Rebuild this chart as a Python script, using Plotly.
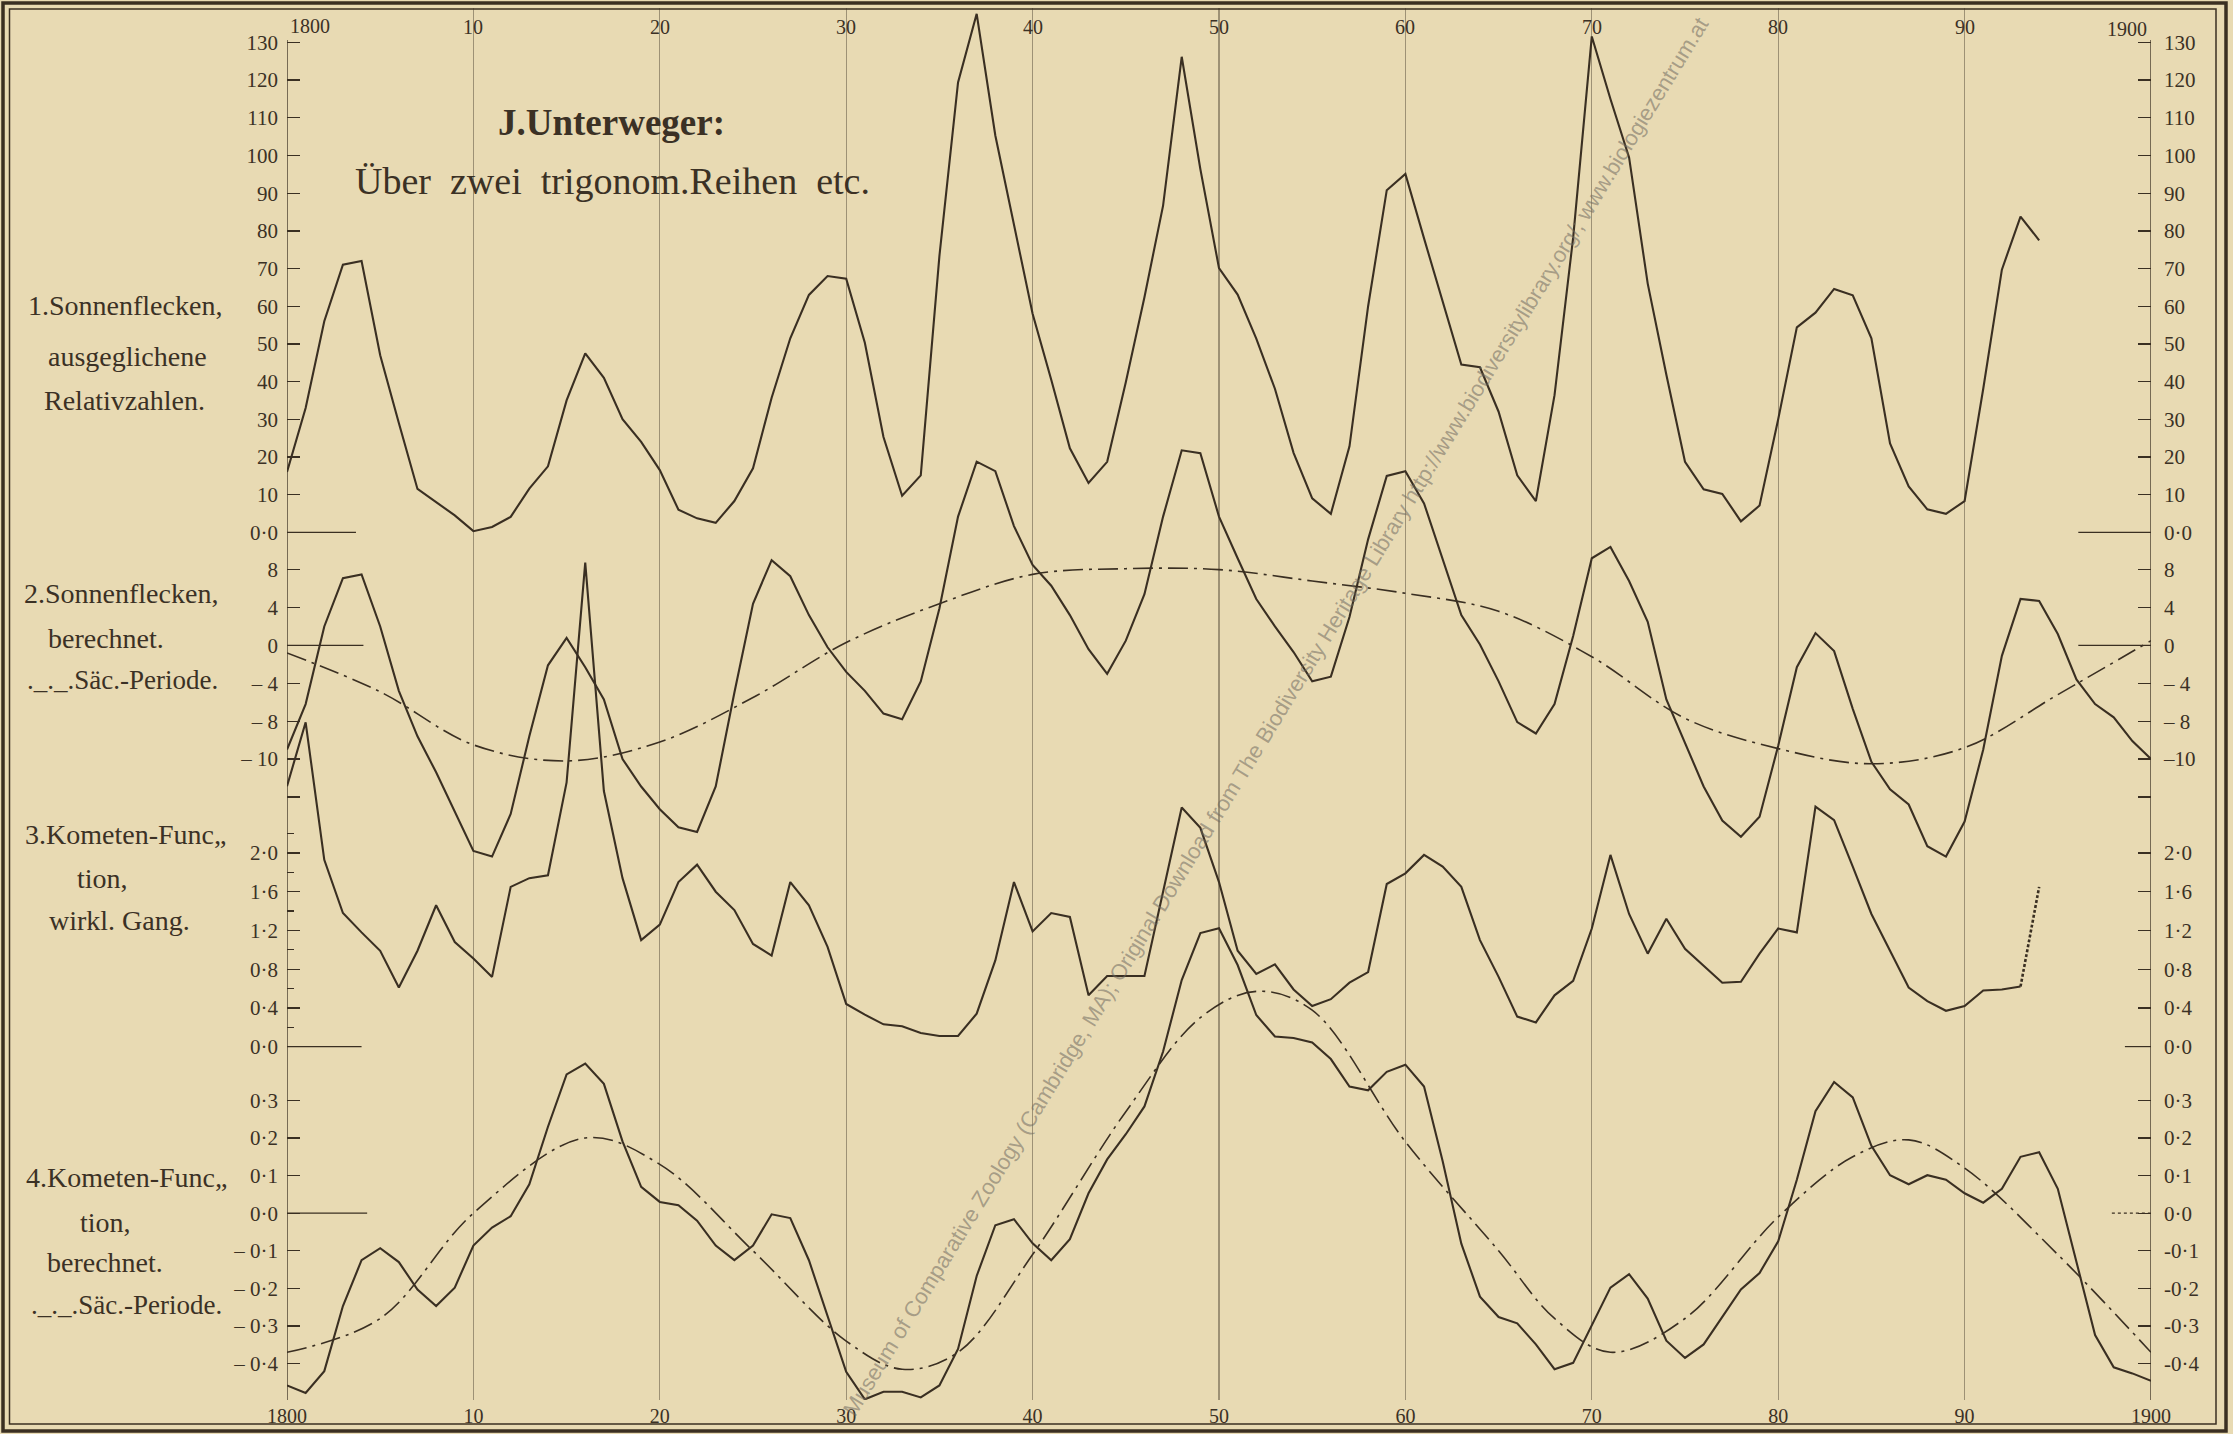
import plotly.graph_objects as go

# ---------------- data ----------------
years_p1 = list(range(1800, 1895))
sunspots_smoothed = [
    16, 33, 56, 71, 72, 47, 29, 11.5, 8, 4.5, 0.3, 1.4, 4.1, 11.6, 17.5, 35, 47.5, 41, 30, 24, 16.5,
    6, 3.7, 2.5, 8.3, 17, 35.7, 51.5, 63, 68, 67.3, 50.3, 25.3, 9.7, 15.1, 73.3, 119.4, 137.6, 105.3, 81.8,
    58, 40.5, 22.3, 13.1, 18.7, 39.8, 62.4, 86.7, 126.2, 96.4, 70.1, 63.1, 51.4, 38.1, 21.1, 9, 4.9, 22.8, 60, 90.8,
    95.1, 78, 61.5, 44.5, 43.8, 32, 15.1, 8.3, 36.4, 78.2, 131.6, 115, 99.5, 66, 41.8, 18.7, 11.4, 10.2, 2.9, 7.1,
    30, 54.4, 58.3, 64.6, 62.9, 51.5, 23.6, 12.2, 6.1, 4.9, 8.3, 38.1, 69.7, 83.8, 77.5]

years_full = list(range(1800, 1901))
sunspots_calc = [
    -11.0, -6.2, 2.0, 7.1, 7.5, 2.0, -4.8, -9.6, -13.4, -17.6,
    -21.7, -22.3, -17.8, -9.6, -2.1, 0.8, -2.3, -5.7, -12.0, -14.9,
    -17.3, -19.2, -19.7, -14.9, -5.0, 4.4, 9.0, 7.3, 3.2, -0.2,
    -2.8, -4.8, -7.2, -7.8, -3.8, 3.9, 13.6, 19.4, 18.4, 12.6,
    8.5, 6.3, 3.2, -0.4, -3.0, 0.5, 5.4, 13.6, 20.6, 20.3,
    13.6, 9.2, 4.9, 2.0, -0.7, -3.8, -3.3, 3.0, 11.2, 17.9,
    18.4, 15.0, 9.2, 3.2, 0.1, -3.8, -8.1, -9.3, -6.2, 1.0,
    9.2, 10.4, 6.8, 2.5, -5.7, -10.4, -14.9, -18.5, -20.2, -18.1,
    -10.6, -2.3, 1.3, -0.6, -6.7, -12.3, -15.2, -16.8, -21.2, -22.3,
    -18.6, -11.0, -1.1, 4.9, 4.7, 1.2, -3.6, -6.2, -7.6, -10.1, -12.0]

sun_sec_years = list(range(1800, 1901, 5))
sunspots_secular = [-0.8, -4.9, -10.5, -12.2, -10.2, -5.5, 0.3, 4.4, 7.5, 8.1, 8.0,
                    6.8, 5.5, 3.6, -1.2, -7.7, -10.9, -12.5, -10.8, -5.2, 0.5]

years_p3 = list(range(1800, 1894))
comet_actual = [
    2.69, 3.35, 1.93, 1.38, 1.18, 0.99, 0.61, 0.99, 1.46, 1.08,
    0.91, 0.72, 1.65, 1.74, 1.77, 2.73, 5.0, 2.64, 1.74, 1.10,
    1.26, 1.70, 1.88, 1.60, 1.41, 1.06, 0.94, 1.70, 1.46, 1.03,
    0.44, 0.33, 0.23, 0.21, 0.14, 0.11, 0.11, 0.34, 0.89, 1.70,
    1.19, 1.38, 1.34, 0.53, 0.73, 0.73, 0.73, 1.60, 2.47, 2.26,
    1.70, 0.99, 0.75, 0.85, 0.59, 0.42, 0.49, 0.66, 0.77, 1.68,
    1.79, 1.98, 1.86, 1.65, 1.10, 0.72, 0.31, 0.25, 0.53, 0.68,
    1.22, 1.98, 1.37, 0.96, 1.32, 1.01, 0.83, 0.66, 0.67, 0.96,
    1.22, 1.18, 2.48, 2.34, 1.86, 1.37, 0.99, 0.61, 0.47, 0.37,
    0.42, 0.58, 0.59, 0.62]
comet_actual_dashed_years = [1893, 1894]
comet_actual_dashed = [0.62, 1.65]

comet_calc = [
    -0.458, -0.478, -0.42, -0.247, -0.125, -0.093, -0.130, -0.203, -0.247, -0.198,
    -0.086, -0.038, -0.008, 0.077, 0.23, 0.369, 0.398, 0.344, 0.191, 0.07,
    0.03, 0.021, -0.02, -0.086, -0.125, -0.086, -0.003, -0.013, -0.125, -0.276,
    -0.422, -0.495, -0.475, -0.475, -0.49, -0.458, -0.361, -0.167, -0.032, -0.016,
    -0.08, -0.125, -0.069, 0.053, 0.143, 0.21, 0.284, 0.43, 0.62, 0.745,
    0.758, 0.66, 0.527, 0.47, 0.466, 0.454, 0.41, 0.337, 0.327, 0.376,
    0.395, 0.337, 0.138, -0.081, -0.222, -0.276, -0.293, -0.349, -0.415, -0.398,
    -0.30, -0.198, -0.162, -0.227, -0.339, -0.385, -0.349, -0.276, -0.203, -0.159,
    -0.075, 0.089, 0.271, 0.349, 0.308, 0.179, 0.101, 0.077, 0.101, 0.089,
    0.053, 0.028, 0.065, 0.15, 0.162, 0.065, -0.13, -0.324, -0.41, -0.426, -0.446]

comet_sec_years = [1800, 1805, 1810, 1816, 1820, 1825, 1830, 1833, 1836, 1840, 1845, 1849, 1852,
                   1855, 1860, 1865, 1868, 1871, 1875, 1880, 1884, 1887, 1890, 1895, 1900]
comet_secular = [-0.37, -0.28, 0.0, 0.20, 0.13, -0.10, -0.34, -0.415, -0.37, -0.11, 0.27, 0.52, 0.59,
                 0.54, 0.19, -0.10, -0.28, -0.37, -0.28, -0.01, 0.15, 0.195, 0.12, -0.11, -0.37]

decade_vals = list(range(1800, 1901, 10))
decade_text = ["1800", "10", "20", "30", "40", "50", "60", "70", "80", "90", "1900"]

p1_tickvals = [130, 120, 110, 100, 90, 80, 70, 60, 50, 40, 30, 20, 10, 0]
p1_ticktext = ["130", "120", "110", "100", "90", "80", "70", "60", "50", "40", "30", "20", "10", "0·0"]
p2_tickvals = [8, 4, 0, -4, -8, -12, -16]
p2_ticktext_left = ["8", "4", "0", "– 4", "– 8", "– 10", ""]
p2_ticktext_right = ["8", "4", "0", "– 4", "– 8", "–10", ""]
p3_tickvals = [2.0, 1.6, 1.2, 0.8, 0.4, 0.0]
p3_ticktext = ["2·0", "1·6", "1·2", "0·8", "0·4", "0·0"]
p3_minorvals = [2.2, 1.8, 1.4, 1.0, 0.6, 0.2]
p4_tickvals = [0.3, 0.2, 0.1, 0.0, -0.1, -0.2, -0.3, -0.4, -0.5]
p4_ticktext_left = ["0·3", "0·2", "0·1", "0·0", "– 0·1", "– 0·2", "– 0·3", "– 0·4", ""]
p4_ticktext_right = ["0·3", "0·2", "0·1", "0·0", "-0·1", "-0·2", "-0·3", "-0·4", ""]

# ---------------- geometry / style ----------------
W, H = 2233, 1434
PL, PR, PT, PB = 287, 2151, 8, 1400
# pixel of zero and pixels per unit for each panel
panel_geom = {1: (532.3, 3.768), 2: (645.4, 9.47), 3: (1046.6, 96.8), 4: (1213.2, 376.0)}


def yrange(p):
    z, k = panel_geom[p]
    return [(z - PB) / k, (z - PT) / k]


def pxx(px):
    return (px - PL) / (PR - PL)


def pxy(py):
    return (PB - py) / (PB - PT)


BG = "#e8dab3"
INK = "#3a2f22"
TXT = "#3b3125"
GRID = "rgba(95,85,65,0.55)"
SERIF = "Liberation Serif, DejaVu Serif, serif"
DASHDOT = "20px,6px,3px,6px"

fig = go.Figure()

fig.add_trace(go.Scatter(x=years_p1, y=sunspots_smoothed, yaxis="y", mode="lines",
                         line=dict(color=INK, width=2.1), name="1"))
fig.add_trace(go.Scatter(x=years_full, y=sunspots_calc, yaxis="y2", mode="lines",
                         line=dict(color=INK, width=2.1), name="2"))
fig.add_trace(go.Scatter(x=sun_sec_years, y=sunspots_secular, yaxis="y2", mode="lines",
                         line=dict(color=INK, width=1.6, dash=DASHDOT, shape="spline", smoothing=1.0),
                         name="2s"))
fig.add_trace(go.Scatter(x=years_p3, y=comet_actual, yaxis="y3", mode="lines",
                         line=dict(color=INK, width=2.1), name="3"))
fig.add_trace(go.Scatter(x=comet_actual_dashed_years, y=comet_actual_dashed, yaxis="y3", mode="lines",
                         line=dict(color=INK, width=2.6, dash="3px,2px"), name="3d"))
fig.add_trace(go.Scatter(x=years_full, y=comet_calc, yaxis="y4", mode="lines",
                         line=dict(color=INK, width=2.1), name="4"))
fig.add_trace(go.Scatter(x=comet_sec_years, y=comet_secular, yaxis="y4", mode="lines",
                         line=dict(color=INK, width=1.6, dash=DASHDOT, shape="spline", smoothing=1.0),
                         name="4s"))

# invisible anchors so that the right-hand scales are drawn
right_anchor = [("y5", years_p1, sunspots_smoothed), ("y6", years_full, sunspots_calc),
                ("y7", years_p3, comet_actual), ("y8", years_full, comet_calc)]
for ax, xs, ys in right_anchor:
    fig.add_trace(go.Scatter(x=xs[:1], y=ys[:1], yaxis=ax, mode="markers",
                             marker=dict(opacity=0, size=1), hoverinfo="skip", showlegend=False))

tickfont = dict(family=SERIF, size=21, color=TXT)


def yax(p, side, vals, text, overlay=True):
    d = dict(range=yrange(p), tickmode="array", tickvals=vals, ticktext=text,
             ticks="inside", ticklen=13, tickwidth=1.3, tickcolor=INK, showgrid=False,
             zeroline=False, showline=False, tickfont=tickfont, side=side,
             ticklabelstandoff=8 if side == "left" else 12, fixedrange=True)
    if overlay:
        d["overlaying"] = "y"
        d["anchor"] = "x"
    return d


layout = dict(
    width=W, height=H, paper_bgcolor=BG, plot_bgcolor=BG, showlegend=False,
    margin=dict(l=PL, r=W - PR, t=PT, b=H - PB),
    xaxis=dict(range=[1800, 1900], tickmode="array", tickvals=decade_vals, ticktext=decade_text,
               showgrid=True, gridcolor=GRID, gridwidth=1.2, zeroline=False, showline=False,
               ticks="", tickfont=dict(family=SERIF, size=20, color=TXT), ticklabelstandoff=2,
               fixedrange=True),
    yaxis=yax(1, "left", p1_tickvals, p1_ticktext, overlay=False),
    yaxis2=yax(2, "left", p2_tickvals, p2_ticktext_left),
    yaxis3=yax(3, "left", p3_tickvals, p3_ticktext),
    yaxis4=yax(4, "left", p4_tickvals, p4_ticktext_left),
    yaxis5=yax(1, "right", p1_tickvals, p1_ticktext),
    yaxis6=yax(2, "right", p2_tickvals, p2_ticktext_right),
    yaxis7=yax(3, "right", p3_tickvals, p3_ticktext),
    yaxis8=yax(4, "right", p4_tickvals, p4_ticktext_right),
)
layout["yaxis3"]["minor"] = dict(tickmode="array", tickvals=p3_minorvals, ticks="inside",
                                 ticklen=7, tickcolor=INK)
fig.update_layout(**layout)

shapes = []
# double frame
shapes.append(dict(type="rect", xref="paper", yref="paper", x0=pxx(3), x1=pxx(2226), y0=pxy(1431), y1=pxy(3),
                   line=dict(color=INK, width=3.5)))
shapes.append(dict(type="rect", xref="paper", yref="paper", x0=pxx(9.5), x1=pxx(2216), y0=pxy(1424), y1=pxy(9),
                   line=dict(color=INK, width=1.5)))
# vertical axis lines at 1800 and 1900
for xv in (1800, 1900):
    shapes.append(dict(type="line", xref="x", yref="paper", x0=xv, x1=xv, y0=0, y1=pxy(40),
                       line=dict(color=INK, width=1.3)))
# short zero reference lines at both ends of each panel
zero_segments = [("y", 1803.7, 1896.1, "solid"), ("y2", 1804.1, 1896.1, "solid"),
                 ("y3", 1804.0, 1898.6, "solid"), ("y4", 1804.3, 1897.9, "dot")]
for yr, xl, xr, dash in zero_segments:
    shapes.append(dict(type="line", xref="x", yref=yr, x0=1800, x1=xl, y0=0, y1=0,
                       line=dict(color=INK, width=1.2)))
    shapes.append(dict(type="line", xref="x", yref=yr, x0=xr, x1=1900, y0=0, y1=0,
                       line=dict(color=INK, width=1.2, dash=dash)))
fig.update_layout(shapes=shapes)

ann = []
# top decade labels
for v, t in zip(decade_vals, decade_text):
    if v == 1800:
        ann.append(dict(x=v, y=pxy(26), xref="x", yref="paper", text=t, showarrow=False,
                        xanchor="left", yanchor="middle", xshift=1,
                        font=dict(family=SERIF, size=20, color=TXT)))
    elif v == 1900:
        ann.append(dict(x=v, y=pxy(29), xref="x", yref="paper", text=t, showarrow=False,
                        xanchor="right", yanchor="middle", xshift=-2,
                        font=dict(family=SERIF, size=20, color=TXT)))
    else:
        ann.append(dict(x=v, y=pxy(27), xref="x", yref="paper", text=t, showarrow=False,
                        xanchor="center", yanchor="middle",
                        font=dict(family=SERIF, size=20, color=TXT)))

# title
ann.append(dict(x=pxx(611), y=pxy(123), xref="paper", yref="paper", text="<b>J.Unterweger:</b>",
                showarrow=False, xanchor="center", yanchor="middle",
                font=dict(family=SERIF, size=37, color=TXT)))
ann.append(dict(x=pxx(612), y=pxy(181), xref="paper", yref="paper",
                text="Über  zwei  trigonom.Reihen  etc.", xanchor="center", yanchor="middle",
                showarrow=False, font=dict(family=SERIF, size=38, color=TXT)))

# left-hand descriptions (text, centre x, centre y, font size)
left_labels = [
    ("1.Sonnenflecken,", 125, 305, 28), ("ausgeglichene", 127, 357, 28), ("Relativzahlen.", 124, 400, 28),
    ("2.Sonnenflecken,", 121, 593, 28), ("berechnet.", 106, 638, 28), ("._._.Säc.-Periode.", 122, 680, 27),
    ("3.Kometen-Func„", 125, 835, 28), ("tion,", 102, 878, 28), ("wirkl. Gang.", 119, 920, 28),
    ("4.Kometen-Func„", 126, 1177, 28), ("tion,", 105, 1222, 28), ("berechnet.", 105, 1262, 28),
    ("._._.Säc.-Periode.", 126, 1305, 27),
]
for t, cx, cy, fs in left_labels:
    ann.append(dict(x=pxx(cx), y=pxy(cy), xref="paper", yref="paper", text=t, showarrow=False,
                    xanchor="center", yanchor="middle", font=dict(family=SERIF, size=fs, color=TXT)))

# watermark
ann.append(dict(x=pxx(1275), y=pxy(717), xref="paper", yref="paper", xanchor="center", yanchor="middle",
                text="Museum of Comparative Zoology (Cambridge, MA); Original Download from The Biodiversity Heritage Library http://www.biodiversitylibrary.org/; www.biologiezentrum.at",
                textangle=-58.5, showarrow=False,
                font=dict(family="Liberation Sans, Arial, sans-serif", size=22, color="rgba(110,105,95,0.55)")))

fig.update_layout(annotations=ann)
fig.write_html("out.html", config={"displayModeBar": False, "staticPlot": True},
               post_script="document.body.style.margin='0px';document.body.style.overflow='hidden';"
                           "document.body.style.background='#e8dab3';")
